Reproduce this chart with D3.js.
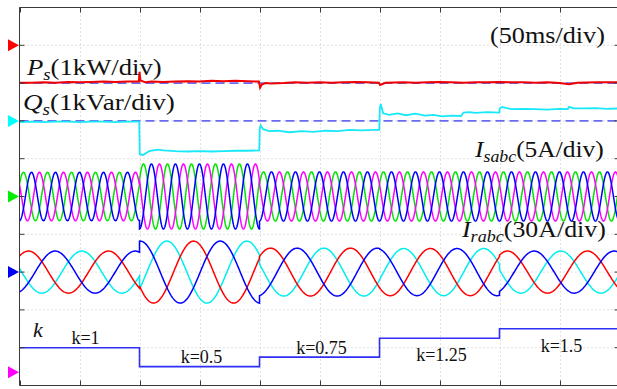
<!DOCTYPE html>
<html><head><meta charset="utf-8">
<script src="https://cdn.jsdelivr.net/npm/d3@7"></script>
<style>body{margin:0;background:#fff}svg{display:block}</style>
</head><body>
<svg id="c" width="617" height="389"></svg>
<script>
// ---------------- data ----------------
const timeTicks = [0,50,100,150,200,250,300,350,400,450,500];   // ms, 50ms/div
const divTicks = [0,1,2,3,4,5,6,7,8,9,10];                       // vertical divisions
const segBounds = [0,100,200,300,400,500];                       // ms, k step instants
const kValues = [1,0.5,0.75,1.25,1.5];
const kLabels = ["k=1","k=0.5","k=0.75","k=1.25","k=1.5"];

// P_s (kW), 1kW/div, channel zero at div 9
const pSeries = [[0,-0.99],[10,-0.99],[20,-0.98],[30,-0.99],[40,-0.97],[50,-0.98],[60,-0.97],[70,-0.96],[80,-0.97],[90,-0.96],[99.5,-0.96],
 [100,-0.70],[100.8,-0.93],[105,-0.98],[110,-0.96],[120,-0.97],[130,-0.96],[140,-0.95],[150,-0.96],[160,-0.94],[170,-0.95],[180,-0.94],[190,-0.95],[199.5,-0.96],
 [200.5,-1.12],[202,-1.04],[205,-1.0],[210,-1.01],[220,-1.0],[230,-0.98],[240,-0.99],[250,-0.98],[260,-0.99],[270,-0.98],[280,-0.97],[290,-0.98],[299.5,-0.99],
 [300.5,-1.05],[305,-0.99],[320,-0.98],[330,-0.99],[340,-0.98],[350,-0.97],[360,-0.98],[370,-0.99],[380,-0.98],[390,-0.98],[400,-0.97],[410,-0.98],
 [420,-0.98],[430,-0.99],[440,-0.98],[450,-1.0],[458,-1.03],[465,-0.99],[480,-0.98],[490,-0.98],[500,-0.98]];
// Q_s (kVar), 1kVar/div, channel zero at div 7
const qSeries = [[0,-0.03],[10,-0.02],[20,-0.03],[30,-0.02],[40,-0.02],[50,-0.03],[60,-0.02],[70,-0.02],[80,-0.03],[90,-0.02],[99.8,-0.02],
 [100.2,-0.88],[103,-0.90],[108,-0.80],[115,-0.76],[120,-0.78],[130,-0.80],[140,-0.81],[150,-0.80],[160,-0.81],[170,-0.80],[180,-0.79],[190,-0.79],[199.8,-0.78],
 [200.2,-0.20],[201,-0.12],[203,-0.22],[208,-0.27],[215,-0.26],[225,-0.30],[235,-0.27],[245,-0.29],[255,-0.26],[265,-0.27],[275,-0.24],[285,-0.25],[295,-0.24],[299.8,-0.24],
 [300.2,0.30],[301,0.45],[303,0.20],[308,0.16],[315,0.20],[322,0.15],[330,0.19],[338,0.14],[345,0.16],[352,0.12],[360,0.14],[368,0.13],[370,0.22],[375,0.23],[380,0.21],[390,0.23],[399.8,0.22],
 [400.2,0.33],[402,0.37],[410,0.31],[420,0.32],[430,0.31],[440,0.30],[450,0.32],[457,0.31],[458,0.37],[462,0.33],[470,0.33],[480,0.34],[490,0.32],[500,0.33]];
const pRef = -1, qRef = 0;

// stator currents I_sabc (A), 5A/div, zero at div 5, 50 Hz
const statorFreq = 50;
const statorAmp = [3.2, 4.3, 3.25, 3.25, 3.25];
const statorPeakGreen = [3.3, 103.3, 203.3, 303.3, 403.3];   // ms, a green-phase peak per segment
// rotor currents I_rabc (A), 30A/div, zero at div 3, ~15 Hz
const rotorPeriod = 66.7;
const rotorAmp = [16.7, 24.6, 19, 18.7, 16.7];
const rotorRedMin = [40.8, 111.7, 242.5, 309, 440];          // ms, a red-phase minimum per segment

const markerLevels = [9, 7, 5, 3, 0.35];
const markerColors = ["#ff0000","#00ffff","#00ee00","#0000ff","#ff00ff"];

// ---------------- drawing ----------------
const svg = d3.select("#c");
const x = d3.scaleLinear().domain([0,500]).range([19.5,619.5]);
const y = d3.scaleLinear().domain([0,10]).range([385.5,7.5]);
const serif = "'Liberation Serif','Times New Roman',serif";

svg.append("defs").append("clipPath").attr("id","clip")
  .append("rect").attr("x",x(0)).attr("y",y(10)).attr("width",x(500)-x(0)).attr("height",y(0)-y(10));

// grid
const grid = svg.append("g").attr("stroke","#c4c4c4").attr("stroke-width",1).attr("stroke-dasharray","1,3");
grid.selectAll("line.v").data(timeTicks.slice(1,-1)).join("line")
  .attr("x1",d=>Math.round(x(d))+0.5).attr("x2",d=>Math.round(x(d))+0.5).attr("y1",y(10)).attr("y2",y(0));
grid.selectAll("line.h").data(divTicks.slice(1,-1)).join("line").attr("class","h")
  .attr("x1",x(0)).attr("x2",x(500)).attr("y1",d=>y(d)).attr("y2",d=>y(d));

const plot = svg.append("g").attr("clip-path","url(#clip)");

// dashed references
plot.selectAll("line.ref").data([9+pRef, 7+qRef]).join("line").attr("class","ref")
  .attr("x1",x(0)).attr("x2",x(500)).attr("y1",d=>y(d)).attr("y2",d=>y(d))
  .attr("stroke","#6b6bf2").attr("stroke-width",1.8).attr("stroke-dasharray","9,5");

const line = d3.line().x(d=>x(d[0])).y(d=>d[1]);

plot.append("path").attr("d", line(pSeries.map(d=>[d[0], y(9 + d[1]/1)])))
  .attr("fill","none").attr("stroke","#f00000").attr("stroke-width",2);
plot.append("path").attr("d", line(qSeries.map(d=>[d[0], y(7 + d[1]/1)])))
  .attr("fill","none").attr("stroke","#18e8f8").attr("stroke-width",1.8);

// stator currents
function statorPts(offset){
  const pts=[];
  for(let s=0;s<5;s++){
    for(let t=segBounds[s]; t<=segBounds[s+1]+1e-9; t+=0.25){
      const v = statorAmp[s]*Math.cos(2*Math.PI*statorFreq/1000*(t - statorPeakGreen[s] - offset));
      pts.push([t, y(5 + v/5)]);
    }
  }
  return pts;
}
const Ts = 1000/statorFreq;
[["#00e600",0],["#ff00ff",2*Ts/3],["#0000ff",Ts/3]].forEach(([c,o])=>{
  plot.append("path").attr("d",line(statorPts(o))).attr("fill","none").attr("stroke",c).attr("stroke-width",1.5);
});

// rotor currents
function rotorPts(offset){
  const pts=[];
  for(let s=0;s<5;s++){
    for(let t=segBounds[s]; t<=segBounds[s+1]+1e-9; t+=0.5){
      const v = -rotorAmp[s]*Math.cos(2*Math.PI*(t - rotorRedMin[s] - offset)/rotorPeriod);
      pts.push([t, y(3 + v/30)]);
    }
  }
  return pts;
}
[["#00eeee",2*rotorPeriod/3],["#ff0000",0],["#0000ff",rotorPeriod/3]].forEach(([c,o])=>{
  plot.append("path").attr("d",line(rotorPts(o))).attr("fill","none").attr("stroke",c).attr("stroke-width",1.5);
});

// k step
const kPts=[];
kValues.forEach((k,i)=>{kPts.push([segBounds[i],y(k)]);kPts.push([segBounds[i+1],y(k)]);});
plot.append("path").attr("d",line(kPts)).attr("fill","none").attr("stroke","#2f2ff5").attr("stroke-width",1.6);

// frame
const frame = svg.append("g").attr("stroke","#3a3a3a").attr("stroke-width",1).attr("fill","none");
frame.append("path").attr("d",`M${x(500)},${y(10)}H${x(0)}V${y(0)}H${x(500)}`);
frame.selectAll("line.tt").data(timeTicks).join("line").attr("class","tt")
  .attr("x1",d=>Math.round(x(d))+0.5).attr("x2",d=>Math.round(x(d))+0.5).attr("y1",y(10)).attr("y2",y(10)+5);
frame.selectAll("line.bt").data(timeTicks).join("line").attr("class","bt")
  .attr("x1",d=>Math.round(x(d))+0.5).attr("x2",d=>Math.round(x(d))+0.5).attr("y1",y(0)).attr("y2",y(0)-5);
frame.selectAll("line.lt").data(divTicks).join("line").attr("class","lt")
  .attr("x1",x(0)).attr("x2",x(0)+5).attr("y1",d=>y(d)).attr("y2",d=>y(d));
frame.selectAll("line.rt").data(divTicks).join("line").attr("class","rt")
  .attr("x1",x(500)).attr("x2",x(500)-5).attr("y1",d=>y(d)).attr("y2",d=>y(d));

// channel markers
svg.selectAll("path.mk").data(markerLevels).join("path").attr("class","mk")
  .attr("d",d=>{const yy=y(d);return `M8,${yy-6}L19,${yy}L8,${yy+6}Z`;})
  .attr("fill",(d,i)=>markerColors[i]);

// labels
function label(x0, yb, parts, size, targetW){
  const t = svg.append("text").attr("x",x0).attr("y",yb).attr("font-family",serif).attr("font-size",size).attr("fill","#111");
  parts.forEach(p=>{
    const ts = t.append("tspan").text(p.text);
    if(p.it) ts.attr("font-style","italic");
    if(p.sub) ts.attr("font-size",size*0.7).attr("dy",size*0.22);
    if(p.back) ts.attr("dy",-size*0.22);
  });
  if(targetW){
    const w = t.node().getBBox().width;
    t.attr("transform",`translate(${x0},0) scale(${targetW/w},1) translate(${-x0},0)`);
  }
  return t;
}
label(490, 43, [{text:"(50ms/div)"}], 23, 115);
label(27, 75, [{text:"P",it:1},{text:"s",it:1,sub:1},{text:"(1kW/div)",back:1}], 23, 136);
label(23, 110, [{text:"Q",it:1},{text:"s",it:1,sub:1},{text:"(1kVar/div)",back:1}], 23, 152);
label(475, 157, [{text:"I",it:1},{text:"sabc",it:1,sub:1},{text:"(5A/div)",back:1}], 23, 130);
label(462, 237, [{text:"I",it:1},{text:"rabc",it:1,sub:1},{text:"(30A/div)",back:1}], 23, 145);
label(33, 337, [{text:"k",it:1}], 22);

svg.selectAll("text.kl").data(kValues).join("text").attr("class","kl")
  .attr("x",(k,i)=>x((segBounds[i]+segBounds[i+1])/2) + (i===0?6:2))
  .attr("y",k=> k>1 ? y(k)+23 : y(k)-3.5)
  .attr("text-anchor","middle").attr("font-family",serif).attr("font-size",18).attr("fill","#111")
  .text((k,i)=>kLabels[i]);
</script>
</body></html>
